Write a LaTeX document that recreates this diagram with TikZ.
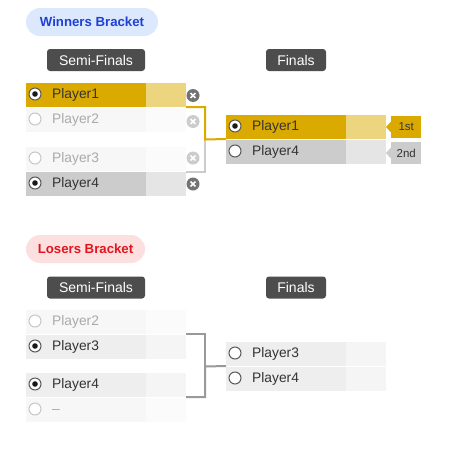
\documentclass[tikz,border=0pt]{standalone}
\usepackage{fontspec}
\setmainfont{Liberation Sans}
\definecolor{gold}{HTML}{DBAA00}
\definecolor{goldl}{HTML}{EDD57F}
\definecolor{gdark}{HTML}{CCCCCC}
\definecolor{glight}{HTML}{E5E5E5}
\definecolor{fdark}{HTML}{F7F7F7}
\definecolor{flight}{HTML}{FBFBFB}
\definecolor{ldark}{HTML}{EEEEEE}
\definecolor{llight}{HTML}{F5F5F5}
\definecolor{txt}{HTML}{333333}
\definecolor{ftxt}{HTML}{AAAAAA}
\definecolor{hdr}{HTML}{4D4D4D}
\definecolor{wpill}{HTML}{DCE8FC}
\definecolor{wtxt}{HTML}{1F3FD6}
\definecolor{lpill}{HTML}{FCE0E0}
\definecolor{ltxt}{HTML}{E3141E}
\definecolor{lconn}{HTML}{999999}
\tikzset{
  rowbox/.style={anchor=north west, minimum width=160pt, minimum height=24pt, inner sep=0pt, outer sep=0pt},
  radioon/.style={circle, draw=black!65, fill=white, line width=1pt, minimum size=12pt, inner sep=0pt,
    path picture={\fill[black!90] (path picture bounding box.center) circle (2.8pt);}},
  radiooff/.style={circle, draw=black!65, fill=white, line width=1pt, minimum size=12pt, inner sep=0pt},
  radiofade/.style={circle, draw=black!22, fill=white, line width=1pt, minimum size=12pt, inner sep=0pt},
  xicon/.style={circle, fill=#1, minimum size=13pt, inner sep=0pt,
    path picture={\draw[white, line width=1.6pt] ([shift={(-2.4pt,-2.4pt)}]path picture bounding box.center) -- ([shift={(2.4pt,2.4pt)}]path picture bounding box.center);
                  \draw[white, line width=1.6pt] ([shift={(-2.4pt,2.4pt)}]path picture bounding box.center) -- ([shift={(2.4pt,-2.4pt)}]path picture bounding box.center);}},
  hdrbox/.style={fill=hdr, text=white, rounded corners=3pt, minimum height=22pt, inner sep=0pt, font=\fontsize{14}{16}\selectfont},
  pill/.style={rounded corners=14pt, minimum height=28pt, inner sep=0pt, font=\fontsize{13.2}{15}\selectfont\bfseries},
  tagbox/.style={anchor=west, minimum width=30pt, minimum height=22pt, inner sep=0pt, text=txt, font=\fontsize{11.5}{13}\selectfont},
  conn/.style={line width=2pt},
}
% name, x, y, dark, light, textcolor, text, radio style
\newcommand{\brow}[8]{%
  \node[rowbox, fill=#4] (#1) at (#2,#3) {};
  \fill[#5] ([xshift=120pt]#1.north west) rectangle (#1.south east);
  \node[#8] (#1r) at ([xshift=9pt,yshift=1pt]#1.west) {};
  \node[anchor=mid west, inner sep=0pt, text=#6, font=\fontsize{13.8}{16}\selectfont] (#1t) at ([xshift=26pt,yshift=-0.5pt]#1.west) {#7};
}
\begin{document}
\begin{tikzpicture}[x=1pt,y=-1pt]
\useasboundingbox[fill=white] (0,0) rectangle (470,455);

% ---------- Winners ----------
\node[pill, fill=wpill, text=wtxt, minimum width=132pt] (wp) at (92,22) {Winners Bracket};
\node[hdrbox, minimum width=98pt] (wsh) at (96,60) {Semi-Finals};
\node[hdrbox, minimum width=60pt] (wfh) at (296,60) {Finals};

\brow{w1}{26}{83}{gold}{goldl}{txt}{Player1}{radioon}
\brow{w2}{26}{108}{fdark}{flight}{ftxt}{Player2}{radiofade}
\brow{w3}{26}{147}{fdark}{flight}{ftxt}{Player3}{radiofade}
\brow{w4}{26}{172}{gdark}{glight}{txt}{Player4}{radioon}

\node[xicon=black!55] (x1) at (193,95.5) {};
\node[xicon=black!20] (x2) at (193,121.5) {};
\node[xicon=black!20] (x3) at (193,158) {};
\node[xicon=black!55] (x4) at (193,184) {};

\brow{f1}{226}{115}{gold}{goldl}{txt}{Player1}{radioon}
\brow{f2}{226}{140}{gdark}{glight}{txt}{Player4}{radiooff}

\coordinate (wj) at (205,139.5);
\draw[conn, gdark] (w3.north east |- w4.north) -| (wj);
\draw[conn, gold] (w1.south east) -| (wj) -- (f1.south west);

\node[tagbox, fill=gold] (t1) at (391,127) {1st};
\fill[gold] ([yshift=5.5pt]t1.west) -- ([xshift=-5pt]t1.west) -- ([yshift=-5.5pt]t1.west) -- cycle;
\node[tagbox, fill=gdark] (t2) at (391,153) {2nd};
\fill[gdark] ([yshift=5.5pt]t2.west) -- ([xshift=-5pt]t2.west) -- ([yshift=-5.5pt]t2.west) -- cycle;

% ---------- Losers ----------
\node[pill, fill=lpill, text=ltxt, minimum width=119pt] (lp) at (85.5,249) {Losers Bracket};
\node[hdrbox, minimum width=98pt] (lsh) at (96,287.5) {Semi-Finals};
\node[hdrbox, minimum width=60pt] (lfh) at (296,287.5) {Finals};

\brow{l1}{26}{310}{fdark}{flight}{ftxt}{Player2}{radiofade}
\brow{l2}{26}{335}{ldark}{llight}{txt}{Player3}{radioon}
\brow{l3}{26}{373}{ldark}{llight}{txt}{Player4}{radioon}
\brow{l4}{26}{398}{fdark}{flight}{ftxt}{--}{radiofade}

\brow{g1}{226}{342}{ldark}{llight}{txt}{Player3}{radiooff}
\brow{g2}{226}{367}{ldark}{llight}{txt}{Player4}{radiooff}

\coordinate (lj) at (205,366.5);
\draw[conn, lconn] (l1.south east) -| (lj);
\draw[conn, lconn] (l3.south east) -| (lj) -- (g1.south west);
\end{tikzpicture}
\end{document}
